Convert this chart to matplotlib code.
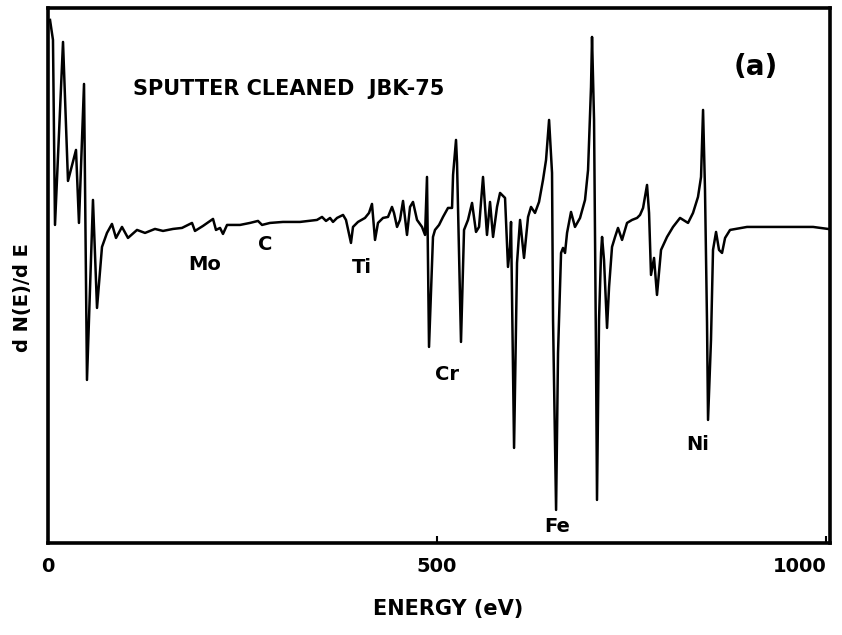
#!/usr/bin/env python3
"""Auger spectrum (dN/dE) of sputter cleaned JBK-75, re-drawn from a scanned figure."""

import numpy as np
import matplotlib
matplotlib.use("Agg")
import matplotlib.pyplot as plt

# Trace: energy [eV] and dN(E)/dE [arbitrary units, 0 = flat background]
energy_ev = [
    2.6, 6.4, 9.0, 19.3, 25.7, 36.0, 39.8, 46.3, 50.1, 57.8,
    63.0, 69.4, 75.8, 82.2, 87.4, 95.1, 102.8, 114.4, 124.7, 137.5,
    147.8, 160.7, 172.2, 185.1, 188.9, 199.2, 212.1, 215.9, 221.1, 224.9,
    230.1, 246.8, 259.6, 269.9, 275.1, 285.3, 302.0, 323.9, 345.7, 352.2,
    357.3, 362.5, 366.3, 371.5, 379.2, 383.0, 389.4, 392.0, 398.4, 407.4,
    412.6, 416.4, 420.3, 424.1, 430.6, 437.0, 442.1, 444.7, 448.6, 452.4,
    456.3, 461.4, 465.3, 469.1, 474.3, 480.7, 484.6, 487.1, 489.7, 494.8,
    497.4, 502.6, 507.7, 514.1, 519.3, 520.6, 524.4, 525.7, 530.8, 534.7,
    539.8, 545.0, 550.1, 554.0, 559.1, 564.2, 568.1, 572.0, 577.1, 581.0,
    587.4, 591.2, 593.8, 595.1, 599.0, 602.8, 606.7, 611.8, 617.0, 620.8,
    625.9, 631.1, 636.2, 640.1, 644.0, 647.8, 649.1, 653.0, 655.5, 659.4,
    661.9, 664.5, 667.1, 672.2, 677.3, 683.8, 690.2, 694.1, 697.9, 699.2,
    701.8, 704.3, 705.6, 708.2, 710.8, 712.1, 714.6, 718.5, 721.1, 724.9,
    728.8, 732.6, 737.8, 744.2, 750.6, 757.1, 760.9, 764.8, 769.9, 772.5,
    775.0, 778.9, 782.7, 787.9, 795.6, 803.3, 812.3, 822.6, 829.0, 835.4,
    839.3, 841.9, 844.4, 847.0, 848.3, 852.1, 854.7, 858.6, 862.4, 866.3,
    870.2, 876.6, 898.4, 940.8, 983.3, 1002.5,
]
dnde = [
    208, 188, 3, 186, 47, 78, 5, 144, -152, 28,
    -80, -19, -5, 4, -10, 1, -10, -2, -5, -1,
    -3, -1, 0, 5, -3, 2, 9, -2, 0, -6,
    3, 3, 5, 7, 3, 5, 6, 6, 8, 11,
    7, 10, 6, 10, 13, 8, -15, 1, 6, 10,
    15, 24, -12, 5, 10, 11, 21, 15, 1, 8,
    27, -7, 21, 26, 8, 1, -7, 51, -119, -9,
    -2, 3, 11, 20, 20, 53, 88, 65, -114, -2,
    8, 25, -4, 1, 51, -7, 26, -9, 21, 35,
    30, -39, -19, 6, -220, -35, 8, -30, 11, 21,
    15, 26, 48, 68, 108, 55, -92, -282, -125, -25,
    -20, -25, -5, 16, 1, 10, 28, 58, 141, 191,
    108, -125, -272, -92, -25, -9, -32, -100, -59, -19,
    -9, 0, -12, 5, 8, 10, 13, 20, 43, 15,
    -47, -30, -67, -22, -9, 1, 10, 5, 15, 31,
    51, 118, 38, -95, -192, -112, -22, -4, -22, -25,
    -10, -2, 1, 1, 1, -1,
]

# element labels: name, energy, signal level of the text
labels = ["Mo", "C", "Ti", "Cr", "Fe", "Ni"]
label_ev = [202, 279, 404, 513, 654, 835]
label_y = [-37, -17, -40, -147, -299, -217]

FONT = "DejaVu Sans"

fig = plt.figure(figsize=(8.42, 6.35), dpi=100)
ax = fig.add_axes([0.057, 0.145, 0.9287, 0.8425])

ax.plot(np.array(energy_ev), np.array(dnde), color="black", lw=1.8,
        solid_joinstyle="round")

ax.set_xlim(0, 1005)
ax.set_ylim(-315, 220)

ax.set_xticks([0, 500, 1000])
ax.set_xticklabels(["0", "500", "1000"], fontsize=14, fontweight="bold",
                   family=FONT)
ax.get_xticklabels()[-1].set_horizontalalignment("right")
ax.tick_params(axis="x", direction="in", length=5, width=1.5, pad=10)
ax.set_yticks([])

for spine in ax.spines.values():
    spine.set_linewidth(2.6)

for name, e, y in zip(labels, label_ev, label_y):
    ax.text(e, y, name, ha="center", va="center", fontsize=14,
            fontweight="bold", family=FONT)

ax.text(109, 139, "SPUTTER CLEANED  JBK-75", ha="left", va="center",
        fontsize=15, fontweight="bold", family=FONT)
ax.text(909, 161, "(a)", ha="center", va="center", fontsize=20,
        fontweight="bold", family=FONT)

fig.text(448 / 842, 1 - 609 / 635, "ENERGY (eV)", ha="center", va="center",
         fontsize=15, fontweight="bold", family=FONT)
fig.text(23 / 842, 1 - 298 / 635, "d N(E)/d E", ha="center", va="center",
         rotation=90, fontsize=14, fontweight="bold", family=FONT)

fig.savefig("out.png", dpi=100)
